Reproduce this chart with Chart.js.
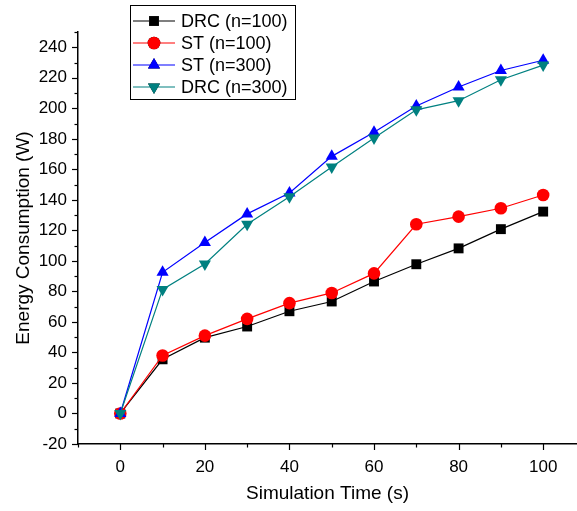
<!DOCTYPE html>
<html>
<head>
<meta charset="utf-8">
<script src="https://cdn.jsdelivr.net/npm/chart.js@4.4.1/dist/chart.umd.min.js"></script>
<style>
  html, body { margin: 0; padding: 0; background: #fff; overflow: hidden; }
</style>
</head>
<body>
<canvas id="energyChart" width="577" height="511"></canvas>
<script>
const simTime = [0, 10, 20, 30, 40, 50, 60, 70, 80, 90, 100];
const drc100 = [0, 35.5, 49.7, 57, 67, 73.4, 86.5, 97.8, 108.2, 120.8, 132.3];
const st100 = [0, 38, 51, 62, 72.3, 79, 91.8, 124, 129, 134.5, 143.2];
const st300 = [0, 92.5, 112, 130.8, 144.5, 168.5, 184.3, 201.5, 214, 224.8, 231.5];
const drc300 = [0, 81.3, 98, 124, 142, 161.5, 180.5, 199, 205, 218.7, 228.3];

const xTickValues = [-10, 0, 10, 20, 30, 40, 50, 60, 70, 80, 90, 100];
const yTickValues = [-20, -10, 0, 10, 20, 30, 40, 50, 60, 70, 80, 90, 100, 110, 120,
  130, 140, 150, 160, 170, 180, 190, 200, 210, 220, 230, 240, 250];

const seriesNames = ["DRC (n=100)", "ST (n=100)", "ST (n=300)", "DRC (n=300)"];
const seriesColors = ["#000000", "#ff0000", "#0000ff", "#008080"];

const FONT = "'Liberation Sans', Arial, sans-serif";

function makeSeries(name, values, color, style, radius, rotation, order) {
  return {
    label: name,
    data: simTime.map((x, i) => ({ x, y: values[i] })),
    borderColor: color,
    backgroundColor: color,
    borderWidth: 1.2,
    pointStyle: style,
    pointRadius: radius,
    pointRotation: rotation,
    pointBorderWidth: 0,
    pointBackgroundColor: color,
    tension: 0,
    order: order,
  };
}

// axis ticks drawn by hand so minor ticks can be shorter
const tickMarks = {
  id: "tickMarks",
  afterDraw(chart) {
    const ctx = chart.ctx;
    const xs = chart.scales.x;
    const ys = chart.scales.y;
    const area = chart.chartArea;
    ctx.save();
    ctx.strokeStyle = "#000";
    ctx.lineWidth = 1.2;
    xTickValues.forEach((v) => {
      const px = Math.round(xs.getPixelForValue(v)) + 0.5;
      const len = v % 20 === 0 ? 6 : 3.5;
      ctx.beginPath();
      ctx.moveTo(px, area.bottom);
      ctx.lineTo(px, area.bottom + len);
      ctx.stroke();
    });
    yTickValues.forEach((v) => {
      const py = Math.round(ys.getPixelForValue(v)) + 0.5;
      const len = v % 20 === 0 ? 6 : 3.5;
      ctx.beginPath();
      ctx.moveTo(area.left, py);
      ctx.lineTo(area.left - len, py);
      ctx.stroke();
    });
    ctx.restore();
  },
};

// legend box with line + marker, inside the plot
const boxLegend = {
  id: "boxLegend",
  afterDraw(chart) {
    const ctx = chart.ctx;
    const left = 130.5, top = 5.5, w = 165, h = 94;
    ctx.save();
    ctx.fillStyle = "#fff";
    ctx.fillRect(left, top, w, h);
    ctx.strokeStyle = "#000";
    ctx.lineWidth = 1;
    ctx.strokeRect(left, top, w, h);
    ctx.font = "18px " + FONT;
    ctx.textBaseline = "middle";
    chart.data.datasets.forEach((ds, i) => {
      const y = 21 + i * 22;
      ctx.strokeStyle = ds.borderColor;
      ctx.lineWidth = 1.2;
      ctx.beginPath();
      ctx.moveTo(133, y);
      ctx.lineTo(175, y);
      ctx.stroke();
      Chart.helpers.drawPoint(ctx, {
        pointStyle: ds.pointStyle,
        radius: ds.pointRadius,
        rotation: ds.pointRotation,
        borderWidth: 0,
      }, 154, y);
      ctx.fillStyle = ds.borderColor;
      ctx.fill();
      ctx.fillStyle = "#000";
      ctx.fillText(ds.label, 181, y + 1);
    });
    ctx.restore();
  },
};

const ctx = document.getElementById("energyChart").getContext("2d");
new Chart(ctx, {
  type: "line",
  data: {
    datasets: [
      makeSeries(seriesNames[0], drc100, seriesColors[0], "rect", 7, 0, 4),
      makeSeries(seriesNames[1], st100, seriesColors[1], "circle", 6.3, 0, 3),
      makeSeries(seriesNames[2], st300, seriesColors[2], "triangle", 7, 0, 2),
      makeSeries(seriesNames[3], drc300, seriesColors[3], "triangle", 7, 180, 1),
    ],
  },
  options: {
    responsive: false,
    animation: false,
    layout: { autoPadding: false, padding: { top: 32, left: 0, right: 0, bottom: 0 } },
    plugins: {
      legend: { display: false },
      tooltip: { enabled: false },
    },
    scales: {
      x: {
        type: "linear",
        min: -10,
        max: 108,
        afterBuildTicks(scale) { scale.ticks = xTickValues.map((v) => ({ value: v })); },
        afterFit(scale) { scale.height = 67; scale.paddingRight = 0; scale.paddingLeft = 0; },
        grid: { display: false },
        border: { display: true, color: "#000", width: 1.5 },
        ticks: {
          color: "#000",
          padding: 5,
          maxRotation: 0,
          autoSkip: false,
          font: { family: FONT, size: 17 },
          callback: (v) => (v % 20 === 0 && v >= 0 && v <= 100 ? String(v) : ""),
        },
        title: {
          display: true,
          text: "Simulation Time (s)",
          color: "#000",
          font: { family: FONT, size: 19 },
          padding: { top: 0, bottom: 6 },
        },
      },
      y: {
        min: -20,
        max: 250,
        afterBuildTicks(scale) { scale.ticks = yTickValues.map((v) => ({ value: v })); },
        afterFit(scale) { scale.width = 78; },
        grid: { display: false },
        border: { display: true, color: "#000", width: 1.5 },
        ticks: {
          color: "#000",
          padding: 3,
          autoSkip: false,
          font: { family: FONT, size: 17 },
          callback: (v) => (v % 20 === 0 && v <= 240 ? String(v) : ""),
        },
        title: {
          display: true,
          text: "Energy Consumption (W)",
          color: "#000",
          font: { family: FONT, size: 19 },
          padding: { top: 12, bottom: 0 },
        },
      },
    },
  },
  plugins: [tickMarks, boxLegend],
});
</script>
</body>
</html>
